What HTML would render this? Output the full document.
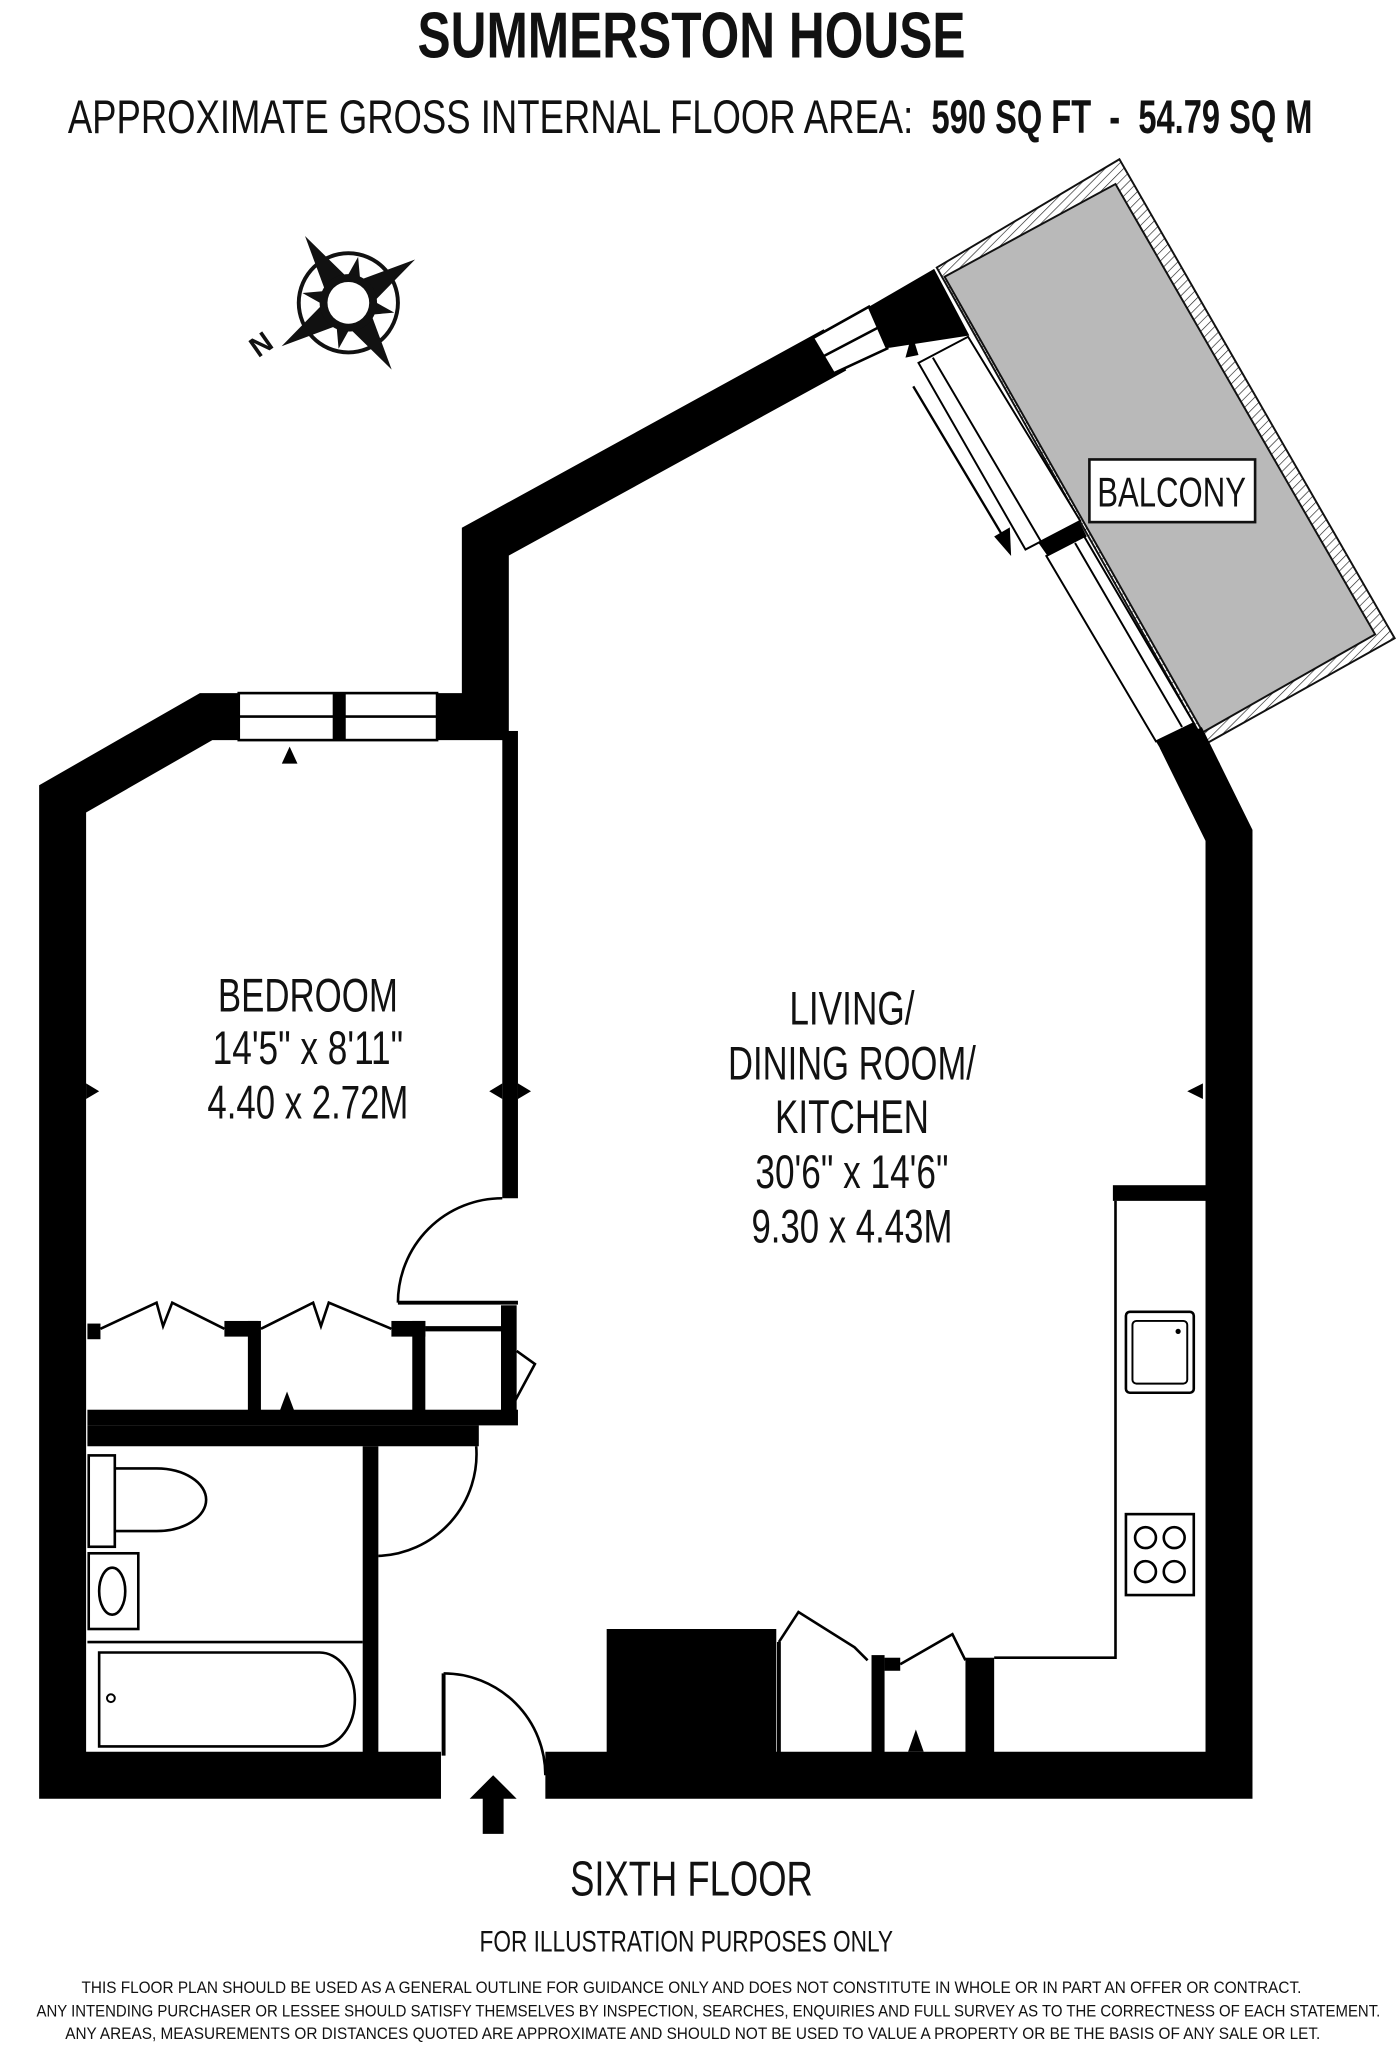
<!DOCTYPE html>
<html><head><meta charset="utf-8"><style>
html,body{margin:0;padding:0;background:#fff}
svg{display:block}
text{font-family:"Liberation Sans",sans-serif;fill:#111}
</style></head><body>
<svg width="1396" height="2048" viewBox="0 0 1070 1569" preserveAspectRatio="none" xmlns="http://www.w3.org/2000/svg">
<defs>
<pattern id="hatch" width="5" height="5" patternUnits="userSpaceOnUse" patternTransform="rotate(45)">
<rect width="5" height="5" fill="#fff"/><line x1="0" y1="0" x2="0" y2="5" stroke="#222" stroke-width="1"/>
</pattern>
</defs>
<!-- Titles -->
<text x="530" y="44" text-anchor="middle" font-size="50" font-weight="bold" textLength="420" lengthAdjust="spacingAndGlyphs">SUMMERSTON HOUSE</text>
<text x="52" y="102" font-size="36" textLength="648" lengthAdjust="spacingAndGlyphs">APPROXIMATE GROSS INTERNAL FLOOR AREA:</text>
<text x="714" y="102" font-size="36" font-weight="bold" textLength="292" lengthAdjust="spacingAndGlyphs" xml:space="preserve">590 SQ FT  -  54.79 SQ M</text>

<!-- Compass -->
<g transform="translate(267,232) rotate(-33)">
<circle r="38" fill="none" stroke="#111" stroke-width="3"/>
<g fill="#111">
<polygon points="0,-61 11,-12 0,0 -11,-12"/>
<polygon points="0,-61 11,-12 0,0 -11,-12" transform="rotate(90)"/>
<polygon points="0,-61 11,-12 0,0 -11,-12" transform="rotate(180)"/>
<polygon points="0,-61 11,-12 0,0 -11,-12" transform="rotate(270)"/>
<polygon points="0,-36 8,-10 0,0 -8,-10" transform="rotate(45)"/>
<polygon points="0,-36 8,-10 0,0 -8,-10" transform="rotate(135)"/>
<polygon points="0,-36 8,-10 0,0 -8,-10" transform="rotate(225)"/>
<polygon points="0,-36 8,-10 0,0 -8,-10" transform="rotate(315)"/>
</g>
<circle r="22" fill="#111"/>
<circle r="16" fill="#fff"/>
</g>
<text x="192" y="272" font-size="22" font-weight="bold" transform="rotate(-35 199 264)">N</text>

<!-- Balcony -->
<polygon points="718,205 858,122 1069,489 924,570" fill="url(#hatch)" stroke="#111" stroke-width="1.5"/>
<polygon points="724,212 855,141 1054,486 922,561" fill="#b9b9b9" stroke="#111" stroke-width="1.5"/>
<rect x="835" y="352" width="127" height="48" fill="#fff" stroke="#111" stroke-width="2"/>
<text x="898" y="388" text-anchor="middle" font-size="32" textLength="114" lengthAdjust="spacingAndGlyphs">BALCONY</text>

<!-- Outer walls -->
<g fill="none" stroke="#000" stroke-width="36" stroke-linejoin="miter">
<polyline points="338,1360 48,1360 48,612 158,549 372,549 372,415 640,268"/>
<polyline points="418,1360 942,1360 942,640 905,565"/>
</g>
<!-- corner block near balcony -->
<polygon points="666,235 716,206 743,257 678,267" fill="#000"/>
<!-- window in diagonal wall -->
<polygon points="623,259 666,235 680,267 639,286" fill="#fff" stroke="#000" stroke-width="2"/>
<line x1="631" y1="273" x2="673" y2="251" stroke="#000" stroke-width="2"/>
<!-- lower wall block at balcony -->
<polygon points="886,568 915,554 935,585 905,600" fill="#000"/>
<!-- sliding door panels -->
<polygon points="704,278 742,258 828,399 786,421" fill="#fff" stroke="#000" stroke-width="1.5"/>
<line x1="715" y1="274" x2="798" y2="415" stroke="#000" stroke-width="1.5"/>
<polygon points="796,416 827,399 833,411 803,426" fill="#000"/>
<polygon points="802,426 831,411 915,554 886,568" fill="#fff" stroke="#000" stroke-width="1.5"/>
<line x1="824" y1="416" x2="906" y2="557" stroke="#000" stroke-width="1.5"/>
<line x1="700" y1="296" x2="770" y2="413" stroke="#000" stroke-width="1.8"/>
<polygon points="775,426 762,411 774,404" fill="#000"/>
<polygon points="699,256 704,272 694,274" fill="#000"/>

<!-- Bedroom windows -->
<rect x="183" y="531" width="152" height="36" fill="#fff" stroke="#000" stroke-width="2"/>
<line x1="183" y1="549" x2="335" y2="549" stroke="#000" stroke-width="2"/>
<rect x="255" y="531" width="10" height="36" fill="#000"/>
<polygon points="216,585 222,572 228,585" fill="#000"/>

<!-- Bedroom/Living wall -->
<rect x="385" y="560" width="12" height="358" fill="#000"/>
<polygon points="66,830 76,836 66,842" fill="#000"/>
<polygon points="385,830 375,836 385,842" fill="#000"/>
<polygon points="397,830 407,836 397,842" fill="#000"/>
<polygon points="922,830 910,836 922,842" fill="#000"/>
<!-- bedroom door -->
<path d="M385,918 A80,80 0 0 0 305,998" fill="none" stroke="#000" stroke-width="2"/>
<line x1="305" y1="998" x2="397" y2="998" stroke="#000" stroke-width="3"/>
<!-- wardrobes -->
<rect x="67" y="1080" width="330" height="12" fill="#000"/>
<rect x="67" y="1014" width="10" height="12" fill="#000"/>
<rect x="172" y="1012" width="26" height="12" fill="#000"/>
<rect x="190" y="1012" width="10" height="70" fill="#000"/>
<rect x="300" y="1012" width="26" height="12" fill="#000"/>
<rect x="316" y="1012" width="10" height="70" fill="#000"/>
<rect x="384" y="1000" width="12" height="84" fill="#000"/>
<line x1="326" y1="1018" x2="385" y2="1018" stroke="#000" stroke-width="4"/>
<polyline points="77,1018 120,998 125,1016 132,998 172,1018" fill="none" stroke="#000" stroke-width="2"/>
<polyline points="200,1018 240,998 246,1016 252,998 300,1018" fill="none" stroke="#000" stroke-width="2"/>
<polyline points="396,1035 410,1045 390,1082" fill="none" stroke="#000" stroke-width="2"/>
<polygon points="214,1082 220,1066 226,1082" fill="#000"/>
<!-- bathroom -->
<rect x="67" y="1092" width="300" height="16" fill="#000"/>
<rect x="278" y="1108" width="12" height="240" fill="#000"/>
<path d="M365,1108 A78,78 0 0 1 290,1192" fill="none" stroke="#000" stroke-width="2"/>
<rect x="68" y="1115" width="20" height="70" fill="#fff" stroke="#000" stroke-width="2"/>
<path d="M88,1125 L120,1125 A38,24 0 1 1 120,1173 L88,1173 Z" fill="#fff" stroke="#000" stroke-width="2"/>
<rect x="68" y="1190" width="38" height="58" fill="#fff" stroke="#000" stroke-width="2"/>
<ellipse cx="86" cy="1219" rx="10" ry="18" fill="none" stroke="#000" stroke-width="2"/>
<line x1="67" y1="1258" x2="278" y2="1258" stroke="#000" stroke-width="2"/>
<path d="M76,1266 L245,1266 A27,36 0 0 1 245,1338 L76,1338 Z" fill="#fff" stroke="#000" stroke-width="2"/>
<circle cx="85" cy="1301" r="3" fill="none" stroke="#000" stroke-width="1.5"/>
<!-- entrance door -->
<path d="M340,1282 A78,78 0 0 1 418,1360" fill="none" stroke="#000" stroke-width="2"/>
<line x1="340" y1="1282" x2="340" y2="1345" stroke="#000" stroke-width="3"/>
<polygon points="378,1360 396,1378 386,1378 386,1405 370,1405 370,1378 360,1378" fill="#000"/>
<!-- chimney block -->
<rect x="465" y="1248" width="130" height="98" fill="#000"/>
<!-- cupboards -->
<line x1="597" y1="1258" x2="597" y2="1345" stroke="#000" stroke-width="3"/>
<polyline points="597,1258 612,1235 655,1262 665,1272" fill="none" stroke="#000" stroke-width="2"/>
<rect x="668" y="1268" width="10" height="80" fill="#000"/>
<rect x="678" y="1270" width="12" height="10" fill="#000"/>
<polyline points="690,1275 730,1252 740,1272" fill="none" stroke="#000" stroke-width="2"/>
<rect x="740" y="1270" width="22" height="78" fill="#000"/>
<polygon points="696,1342 702,1325 708,1342" fill="#000"/>
<!-- kitchen -->
<rect x="853" y="908" width="72" height="12" fill="#000"/>
<polyline points="855,920 855,1270 762,1270" fill="none" stroke="#000" stroke-width="2"/>
<rect x="863" y="1005" width="52" height="62" rx="3" fill="#fff" stroke="#000" stroke-width="2"/>
<rect x="868" y="1012" width="42" height="48" rx="3" fill="none" stroke="#000" stroke-width="1.5"/>
<circle cx="903" cy="1020" r="2" fill="#000"/>
<rect x="863" y="1160" width="52" height="62" fill="#fff" stroke="#000" stroke-width="2"/>
<circle cx="878" cy="1178" r="8" fill="none" stroke="#000" stroke-width="2"/>
<circle cx="900" cy="1178" r="8" fill="none" stroke="#000" stroke-width="2"/>
<circle cx="878" cy="1204" r="8" fill="none" stroke="#000" stroke-width="2"/>
<circle cx="900" cy="1204" r="8" fill="none" stroke="#000" stroke-width="2"/>

<!-- Room labels -->
<g font-size="36" text-anchor="middle">
<text x="236" y="775" textLength="138" lengthAdjust="spacingAndGlyphs">BEDROOM</text>
<text x="236" y="815" textLength="146" lengthAdjust="spacingAndGlyphs">14'5" x 8'11"</text>
<text x="236" y="857" textLength="154" lengthAdjust="spacingAndGlyphs">4.40 x 2.72M</text>
<text x="653" y="785" textLength="96" lengthAdjust="spacingAndGlyphs">LIVING/</text>
<text x="653" y="827" textLength="190" lengthAdjust="spacingAndGlyphs">DINING ROOM/</text>
<text x="653" y="868" textLength="118" lengthAdjust="spacingAndGlyphs">KITCHEN</text>
<text x="653" y="910" textLength="148" lengthAdjust="spacingAndGlyphs">30'6" x 14'6"</text>
<text x="653" y="952" textLength="154" lengthAdjust="spacingAndGlyphs">9.30 x 4.43M</text>
</g>
<text x="530" y="1452" text-anchor="middle" font-size="38" textLength="186" lengthAdjust="spacingAndGlyphs">SIXTH FLOOR</text>
<text x="526" y="1495" text-anchor="middle" font-size="23" textLength="317" lengthAdjust="spacingAndGlyphs">FOR ILLUSTRATION PURPOSES ONLY</text>
<g font-size="13" text-anchor="middle">
<text x="530" y="1527" textLength="935" lengthAdjust="spacingAndGlyphs">THIS FLOOR PLAN SHOULD BE USED AS A GENERAL OUTLINE FOR GUIDANCE ONLY AND DOES NOT CONSTITUTE IN WHOLE OR IN PART AN OFFER OR CONTRACT.</text>
<text x="543" y="1545" textLength="1030" lengthAdjust="spacingAndGlyphs">ANY INTENDING PURCHASER OR LESSEE SHOULD SATISFY THEMSELVES BY INSPECTION, SEARCHES, ENQUIRIES AND FULL SURVEY AS TO THE CORRECTNESS OF EACH STATEMENT.</text>
<text x="531" y="1562" textLength="962" lengthAdjust="spacingAndGlyphs">ANY AREAS, MEASUREMENTS OR DISTANCES QUOTED ARE APPROXIMATE AND SHOULD NOT BE USED TO VALUE A PROPERTY OR BE THE BASIS OF ANY SALE OR LET.</text>
</g>
</svg>
</body></html>
